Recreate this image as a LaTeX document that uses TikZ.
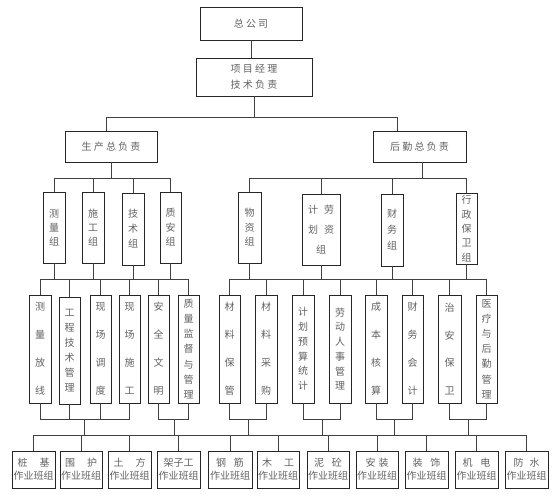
\documentclass[tikz,border=0pt]{standalone}
\usepackage{fontspec}
\newfontfamily\cjk{Noto Sans CJK SC}
\newcommand\bx[7]{\node[box,#7,minimum width={(#4-#2)*1pt},minimum height={(#5-#3)*1pt}] (#1) at ({(#2+#4)/2},{-(#3+#5)/2}) {#6};}
\tikzset{
  box/.style={draw=black!85, line width=0.6pt, inner sep=0pt, align=center, text=black!62},
  vt/.style={font=\cjk\fontsize{10}{#1}\selectfont},
  conn/.style={draw=black!75, line width=0.6pt},
}
\begin{document}
\begin{tikzpicture}[x=1pt,y=1pt]
\useasboundingbox (0,0) rectangle (553,-495);
% level 0/1
\bx{zgs}{200}{7}{302}{40}{总 公 司}{vt=12}
\bx{xm}{196}{58}{312}{96}{项 目 经 理\\技 术 负 责}{vt=16}
\bx{sc}{65}{131}{157}{162}{生 产 总 负 责}{vt=12}
\bx{hq}{373}{131}{466}{162}{后 勤 总 负 责}{vt=12}
% level 2
\bx{clz}{43}{192}{65}{263}{测\\量\\组}{vt=14}
\bx{sgz}{82}{192}{104}{263}{施\\工\\组}{vt=14}
\bx{jsz}{122}{193}{144}{265}{技\\术\\组}{vt=15}
\bx{zaz}{160}{192}{181}{263}{质\\安\\组}{vt=14.5}
\bx{wzz}{238}{192}{261}{263}{物\\资\\组}{vt=14.5}
\bx{jhlz}{302}{194}{340}{265}{计\hspace{6pt}劳\\划\hspace{6pt}资\\组}{vt=20}
\bx{cwz}{381}{194}{403}{266}{财\\务\\组}{vt=16}
\bx{xzz}{456}{193}{477}{264}{行\\政\\保\\卫\\组}{vt=14.3}
% level 3
\bx{clfx}{29}{295}{51}{403}{测\\量\\放\\线}{vt=28}
\bx{gcjs}{59}{297}{80}{404}{工\\程\\技\\术\\管\\理}{vt=15}
\bx{xcdd}{90}{295}{111}{403}{现\\场\\调\\度}{vt=28}
\bx{xcsg}{119}{295}{140}{403}{现\\场\\施\\工}{vt=28}
\bx{aqwm}{148}{295}{169}{403}{安\\全\\文\\明}{vt=28}
\bx{zljd}{178}{295}{199}{403}{质\\量\\监\\督\\与\\管\\理}{vt=15.3}
\bx{clbg}{219}{295}{240}{403}{材\\料\\保\\管}{vt=28}
\bx{clcg}{255}{295}{277}{403}{材\\料\\采\\购}{vt=28}
\bx{jhys}{292}{295}{314}{403}{计\\划\\预\\算\\统\\计}{vt=14.8}
\bx{ldrs}{329}{295}{351}{403}{劳\\动\\人\\事\\管\\理}{vt=14.7}
\bx{cbhs}{365}{295}{387}{403}{成\\本\\核\\算}{vt=28}
\bx{cwkj}{402}{295}{423}{403}{财\\务\\会\\计}{vt=28}
\bx{zabw}{438}{295}{461}{403}{治\\安\\保\\卫}{vt=27.7}
\bx{yl}{476}{295}{497}{403}{医\\疗\\与\\后\\勤\\管\\理}{vt=15.2}
% level 4
\bx{zj}{12}{451}{55}{488}{桩\hspace{12pt}基\\作业班组}{vt=13}
\bx{wh}{60}{451}{102}{488}{围\hspace{12pt}护\\作业班组}{vt=13}
\bx{tf}{108}{451}{151}{488}{土\hspace{12pt}方\\作业班组}{vt=13}
\bx{jzg}{157}{451}{200}{488}{架子工\\作业班组}{vt=13}
\bx{gj}{208}{451}{252}{488}{钢\hspace{8pt}筋\\作业班组}{vt=13}
\bx{mg}{257}{451}{299}{488}{木\hspace{12pt}工\\作业班组}{vt=13}
\bx{nt}{307}{451}{349}{488}{泥\hspace{8pt}砼\\作业班组}{vt=13}
\bx{az}{356}{451}{398}{488}{安\hspace{3pt}装\\作业班组}{vt=13}
\bx{zs}{405}{451}{448}{488}{装\hspace{8pt}饰\\作业班组}{vt=13}
\bx{jd}{455}{451}{498}{488}{机\hspace{8pt}电\\作业班组}{vt=13}
\bx{fs}{505}{451}{548}{488}{防\hspace{6pt}水\\作业班组}{vt=13}
% bus coordinates
\coordinate (b0) at (0,-117);
\coordinate (b1) at (0,-178);
\coordinate (b2) at (0,-279.5);
\coordinate (g) at (0,-419);
\coordinate (b3) at (0,-435);
% level 0 -> 1
\draw[conn] (zgs.south) -- (zgs.south |- xm.north);
\draw[conn] (xm.south) -- (xm.south |- b0);
\draw[conn] ([xshift=-5pt]sc.north) -- ([xshift=-5pt]sc.north |- b0) -- ([xshift=-22pt]hq.north |- b0) -- ([xshift=-22pt]hq.north);
% level 1 -> 2
\draw[conn] (clz.north) -- (clz.north |- b1) -- (zaz.north |- b1) -- (zaz.north);
\foreach \n in {sgz,jsz} \draw[conn] (\n.north) -- (\n.north |- b1);
\draw[conn] (sc.south) -- (sc.south |- b1);
\draw[conn] (wzz.north) -- (wzz.north |- b1) -- (xzz.north |- b1) -- (xzz.north);
\foreach \n in {jhlz,cwz} \draw[conn] (\n.north) -- (\n.north |- b1);
\draw[conn] ([xshift=2.5pt]hq.south) -- ([xshift=2.5pt]hq.south |- b1);
% level 2 -> 3
\draw[conn] (clfx.north) -- (clfx.north |- b2) -- (zljd.north |- b2) -- (zljd.north);
\foreach \n in {gcjs,xcdd,xcsg,aqwm} \draw[conn] (\n.north) -- (\n.north |- b2);
\foreach \n in {clz,sgz,jsz,zaz} \draw[conn] (\n.south) -- (\n.south |- b2);
\draw[conn] (clbg.north) -- (clbg.north |- b2) -- (yl.north |- b2) -- (yl.north);
\foreach \n in {clcg,jhys,ldrs,cbhs,cwkj,zabw} \draw[conn] (\n.north) -- (\n.north |- b2);
\foreach \n in {wzz,jhlz,cwz,xzz} \draw[conn] (\n.south) -- (\n.south |- b2);
% level 3 groups
\draw[conn] (clfx.south) -- (clfx.south |- g) -- (xcsg.south |- g) -- (xcsg.south);
\foreach \n in {gcjs,xcdd} \draw[conn] (\n.south) -- (\n.south |- g);
\draw[conn] (aqwm.south) -- (aqwm.south |- g) -- (zljd.south |- g) -- (zljd.south);
\draw[conn] (clbg.south) -- (clbg.south |- g) -- (clcg.south |- g) -- (clcg.south);
\draw[conn] (jhys.south) -- (jhys.south |- g) -- (ldrs.south |- g) -- (ldrs.south);
\draw[conn] (cbhs.south) -- (cbhs.south |- g) -- (cwkj.south |- g) -- (cwkj.south);
\draw[conn] (zabw.south) -- (zabw.south |- g) -- (yl.south |- g) -- (yl.south);
\coordinate (gA) at (84,-419);
\coordinate (gB) at (174,-419);
\coordinate (gC) at (248,-419);
\coordinate (gD) at (322,-419);
\coordinate (gE) at (394,-419);
\coordinate (gF) at (468,-419);
\foreach \n in {gA,gB,gC,gD,gE,gF} \draw[conn] (\n) -- (\n |- b3);
% level 4
\draw[conn] (zj.north) -- (zj.north |- b3) -- (fs.north |- b3) -- (fs.north);
\foreach \n in {wh,tf,jzg,gj,mg,nt,az,zs,jd} \draw[conn] (\n.north) -- (\n.north |- b3);
\end{tikzpicture}
\end{document}
